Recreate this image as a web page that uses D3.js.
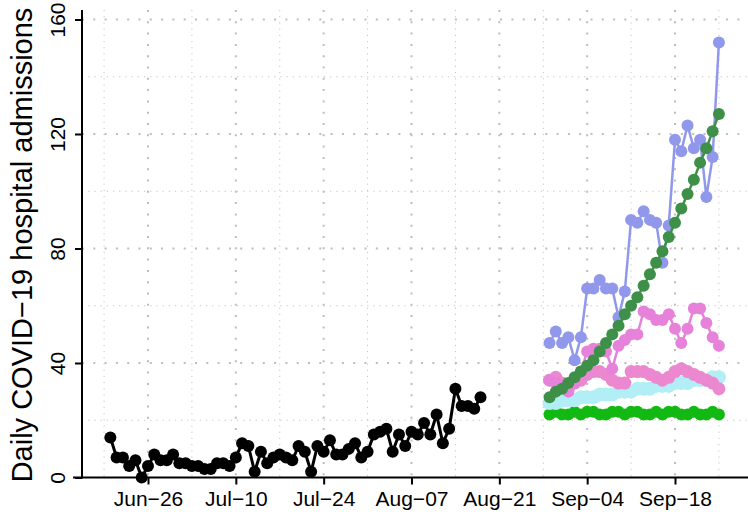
<!DOCTYPE html>
<html>
<head>
<meta charset="utf-8">
<script src="https://cdn.jsdelivr.net/npm/d3@7"></script>
<style>
  body { margin: 0; background: #fff; }
  svg { display: block; font-family: "Liberation Sans", Arial, sans-serif; }
</style>
</head>
<body>
<div id="chart"></div>
<script>
// observed daily admissions, one value a day from obsStart
const obsStart = "2021-06-20";
const obsValues = [
  14, 7, 7, 4, 6, 0, 4, 8, 6, 6, 8,
  5, 5, 4, 4, 3, 3, 5, 5, 4, 7, 12, 11, 2, 9, 5, 7, 8, 7, 6, 11, 9, 2, 11, 9, 13, 8, 8, 10, 12, 7, 9,
  15, 16, 17, 9, 15, 11, 16, 15, 19, 15, 22, 12, 17, 31, 25, 25, 24, 28
];

// forecasts, one value a day from fcStart
const fcStart = "2021-08-29";
const fcPurple = [47, 51, 47, 49, 41, 49, 66, 66, 69, 66, 66, 56, 65, 90, 89, 93, 90, 89, 75, 88, 118, 114, 123, 115, 118, 98, 112, 152];
const fcDarkGreen = [28, 30, 31, 33, 35, 37, 39, 41, 44, 47, 50, 53, 57, 60, 63, 67, 71, 75, 79, 84, 89, 94, 99, 104, 110, 115, 121, 127];
const fcPinkUpper = [34, 33, 32, 30, 33, 37, 44, 45, 45, 44, 38, 46, 48, 50, 50, 58, 57, 55, 55, 57, 52, 47, 52, 59, 59, 54, 49, 46];
const fcPinkLower = [34, 35, 33, 31, 33, 34, 36, 37, 37, 36, 34, 33, 33, 37, 37, 37, 36, 35, 34, 35, 37, 38, 37, 36, 35, 34, 33, 31];
const fcCyan = [26, 26, 27, 27, 27, 28, 28, 28, 29, 29, 29, 30, 30, 30, 31, 31, 31, 32, 32, 32, 33, 33, 33, 34, 34, 34, 35, 35];
const fcGreen = [22, 23, 22, 22, 23, 22, 23, 23, 22, 22, 23, 23, 22, 23, 23, 22, 22, 23, 22, 23, 23, 22, 22, 23, 22, 22, 23, 22];

// axis ticks
const xTickDates = ["2021-06-26", "2021-07-10", "2021-07-24", "2021-08-07", "2021-08-21", "2021-09-04", "2021-09-18"];
const xMinorDates = ["2021-06-19", "2021-07-03", "2021-07-17", "2021-07-31", "2021-08-14", "2021-08-28", "2021-09-11", "2021-09-25"];
const yTicks = [0, 40, 80, 120, 160];
const yMinor = [20, 60, 100, 140];

const width = 748, height = 512;
const parse = d3.utcParse("%Y-%m-%d");

const svg = d3.select("#chart").append("svg")
  .attr("width", width)
  .attr("height", height);

// x scale pinned on two tick dates, y on 0..160
const x = d3.scaleUtc()
  .domain([parse("2021-06-26"), parse("2021-09-18")])
  .range([148, 675]);
const y = d3.scaleLinear().domain([0, 160]).range([477.5, 19.5]);

const plotLeft = 82, plotRight = 748, plotTop = 10, plotBottom = 477.5;

// grid - minor first, then major
const grid = svg.append("g");
grid.selectAll(".vmin").data(xMinorDates).join("line")
  .attr("x1", d => x(parse(d))).attr("x2", d => x(parse(d)))
  .attr("y1", plotTop).attr("y2", plotBottom)
  .attr("stroke", "#c4c4c4").attr("stroke-width", 1).attr("stroke-dasharray", "1.2,5");
grid.selectAll(".hmin").data(yMinor).join("line")
  .attr("x1", plotLeft).attr("x2", plotRight)
  .attr("y1", d => y(d)).attr("y2", d => y(d))
  .attr("stroke", "#c4c4c4").attr("stroke-width", 1).attr("stroke-dasharray", "1.2,5");
grid.selectAll(".vmaj").data(xTickDates).join("line")
  .attr("x1", d => x(parse(d))).attr("x2", d => x(parse(d)))
  .attr("y1", plotTop).attr("y2", plotBottom)
  .attr("stroke", "#bdbdbd").attr("stroke-width", 2).attr("stroke-dasharray", "2,9.3");
grid.selectAll(".hmaj").data(yTicks.filter(d => d > 0)).join("line")
  .attr("x1", plotLeft).attr("x2", plotRight)
  .attr("y1", d => y(d)).attr("y2", d => y(d))
  .attr("stroke", "#bdbdbd").attr("stroke-width", 2).attr("stroke-dasharray", "2,9.3");

// series
function series(start, values) {
  const s = parse(start);
  return values.map((v, i) => ({ date: d3.utcDay.offset(s, i), value: v }));
}

const line = d3.line().x(d => x(d.date)).y(d => y(d.value));

function drawSeries(data, color, r, lw) {
  const g = svg.append("g");
  g.append("path").datum(data)
    .attr("fill", "none").attr("stroke", color)
    .attr("stroke-width", lw).attr("stroke-linejoin", "round")
    .attr("d", line);
  g.selectAll("circle").data(data).join("circle")
    .attr("cx", d => x(d.date)).attr("cy", d => y(d.value))
    .attr("r", r).attr("fill", color);
}

drawSeries(series(fcStart, fcGreen), "#12b912", 6, 2.5);
drawSeries(series(fcStart, fcCyan), "#b2eef5", 7, 2.5);
drawSeries(series(fcStart, fcPinkLower), "#ec88cf", 6.5, 2.5);
drawSeries(series(fcStart, fcPinkUpper), "#e682da", 6, 2.5);
drawSeries(series(fcStart, fcPurple), "#9198ec", 6, 2.5);
drawSeries(series(fcStart, fcDarkGreen), "#3e9048", 6, 2.5);
drawSeries(series(obsStart, obsValues), "#000", 6, 3);

// axes
const xAxis = svg.append("g")
  .attr("transform", `translate(0,${plotBottom})`)
  .call(d3.axisBottom(x)
    .tickValues(xTickDates.map(parse))
    .tickFormat(d3.utcFormat("%b\u2212%d"))
    .tickSize(7)
    .tickSizeOuter(0));
xAxis.select(".domain").remove();
xAxis.selectAll(".tick line").attr("stroke", "#000").attr("stroke-width", 2);
xAxis.selectAll(".tick text")
  .attr("y", 28).attr("dy", 0)
  .attr("font-size", 21).attr("font-family", "Liberation Sans, Arial, sans-serif")
  .attr("fill", "#000");

const yAxis = svg.append("g")
  .attr("transform", `translate(${plotLeft},0)`)
  .call(d3.axisLeft(y).tickValues(yTicks).tickSize(7).tickSizeOuter(0));
yAxis.select(".domain").remove();
yAxis.selectAll(".tick line").attr("stroke", "#000").attr("stroke-width", 2);
yAxis.selectAll(".tick text")
  .attr("x", 0).attr("dy", 0)
  .attr("text-anchor", "middle")
  .attr("transform", "translate(-17,0) rotate(-90)")
  .attr("font-size", 21).attr("font-family", "Liberation Sans, Arial, sans-serif")
  .attr("fill", "#000");

svg.append("line")
  .attr("x1", 73).attr("x2", width)
  .attr("y1", plotBottom).attr("y2", plotBottom)
  .attr("stroke", "#000").attr("stroke-width", 2);
svg.append("line")
  .attr("x1", plotLeft).attr("x2", plotLeft)
  .attr("y1", plotTop).attr("y2", plotBottom + 1)
  .attr("stroke", "#000").attr("stroke-width", 2);

svg.append("text")
  .attr("transform", `translate(32,245) rotate(-90)`)
  .attr("text-anchor", "middle")
  .attr("font-size", 29)
  .text("Daily COVID\u221219 hospital admissions");
</script>
</body>
</html>
